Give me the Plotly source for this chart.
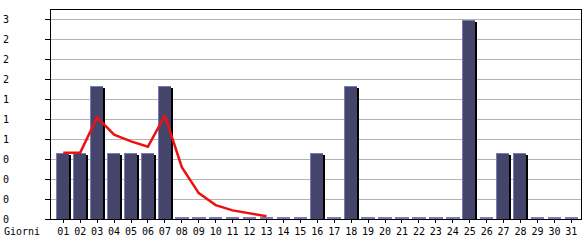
import plotly.graph_objects as go

days = ["01","02","03","04","05","06","07","08","09","10","11","12","13","14","15","16",
        "17","18","19","20","21","22","23","24","25","26","27","28","29","30","31"]
visits = [1,1,2,1,1,1,2,0,0,0,0,0,0,0,0,1,0,2,0,0,0,0,0,0,3,0,1,1,0,0,0]
trend = [1.0,1.0,1.53,1.27,1.17,1.09,1.56,0.78,0.39,0.21,0.13,0.08,0.04]
y_ticks = [0,0.3,0.6,0.9,1.2,1.5,1.8,2.1,2.4,2.7,3.0]
y_tick_text = ["0","0","0","0","1","1","1","2","2","2","3"]

idx = list(range(len(days)))
px_per_unit_y = 200/3.0
px = 1/px_per_unit_y

body_col = "#45456b"
hi_col = "#7b7bb8"

fig = go.Figure()
# shadow
fig.add_trace(go.Bar(x=idx, y=visits, base=[-2*px]*len(idx), width=0.765, offset=-0.31,
                     marker=dict(color="#000000", line=dict(width=0)), hoverinfo="skip"))
# highlight
fig.add_trace(go.Bar(x=idx, y=visits, width=0.765, offset=-0.43,
                     marker=dict(color=hi_col, line=dict(width=0)), hoverinfo="skip"))
# body
fig.add_trace(go.Bar(x=idx, y=visits, base=[-1*px]*len(idx), width=0.706, offset=-0.37,
                     marker=dict(color=body_col, line=dict(width=0))))
# zero stubs
stubs = [1.3*px if v == 0 else None for v in visits]
fig.add_trace(go.Bar(x=idx, y=stubs, width=0.8, offset=-0.4,
                     marker=dict(color=hi_col, line=dict(width=0)), hoverinfo="skip"))
# trend line
fig.add_trace(go.Scatter(x=idx[:len(trend)], y=trend, mode="lines",
                         line=dict(color="#ee1111", width=2.5)))

mono = "DejaVu Sans Mono"
fig.update_layout(
    width=585, height=240,
    margin=dict(l=50, r=3, t=10, b=20),
    paper_bgcolor="white", plot_bgcolor="white",
    barmode="overlay", showlegend=False, bargap=0,
    font=dict(family=mono, size=10, color="black"),
    xaxis=dict(range=[-0.724, 30.57], tickvals=idx, ticktext=days,
               showgrid=False, zeroline=False, showline=True, linecolor="black",
               linewidth=1, mirror=True, ticks="outside", ticklen=3, tickcolor="black",
               tickfont=dict(family=mono, size=10), fixedrange=True),
    yaxis=dict(range=[0, 3.15], tickvals=y_ticks, ticktext=y_tick_text,
               showgrid=True, gridcolor="#b4b4b4", gridwidth=1, zeroline=False,
               showline=True, linecolor="black", linewidth=1, mirror=True,
               ticks="outside", ticklen=5, tickcolor="black",
               tickfont=dict(family=mono, size=10), ticklabelstandoff=34,
               fixedrange=True),
    annotations=[dict(text="Giorni", xref="paper", yref="paper", x=0, y=0,
                      xanchor="left", yanchor="top", xshift=-49, yshift=-5,
                      showarrow=False, font=dict(family=mono, size=10))],
)

fig.write_html("out.html", config={"displayModeBar": False})
